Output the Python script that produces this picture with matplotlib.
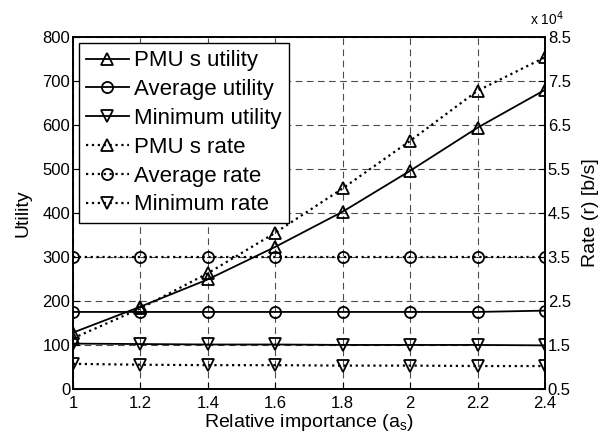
import matplotlib.pyplot as plt
from matplotlib.ticker import ScalarFormatter

plt.rcParams["font.family"] = ["Liberation Sans", "DejaVu Sans"]

importance = [1.0, 1.2, 1.4, 1.6, 1.8, 2.0, 2.2, 2.4]

pmu_utility = [128, 187, 249, 323, 403, 496, 594, 680]
avg_utility = [175, 175, 175, 175, 175, 175, 175, 178]
min_utility = [103, 102, 101, 101, 100, 100, 100, 99]

pmu_rate = [16500, 23300, 31300, 40500, 50600, 61400, 72800, 80400]
avg_rate = [35000, 35000, 35000, 35000, 35000, 35000, 35000, 35000]
min_rate = [10700, 10500, 10400, 10400, 10300, 10300, 10200, 10200]

fig = plt.figure(figsize=(6.0, 4.36), dpi=100)
ax = fig.add_axes([0.1217, 0.108, 0.7866, 0.807])
ax2 = ax.twinx()

mk = dict(markerfacecolor="none", markeredgecolor="black", markersize=8,
          markeredgewidth=1.3, color="black")

h1, = ax.plot(importance, pmu_utility, "-", marker="^", lw=1.3, label="PMU s utility", **mk)
h2, = ax.plot(importance, avg_utility, "-", marker="o", lw=1.3, label="Average utility", **mk)
h3, = ax.plot(importance, min_utility, "-", marker="v", lw=1.3, label="Minimum utility", **mk)
h4, = ax2.plot(importance, pmu_rate, ":", marker="^", lw=1.6, label="PMU s rate", **mk)
h5, = ax2.plot(importance, avg_rate, ":", marker="o", lw=1.6, label="Average rate", **mk)
h6, = ax2.plot(importance, min_rate, ":", marker="v", lw=1.6, label="Minimum rate", **mk)

ax.set_xlim(1, 2.4)
ax.set_ylim(0, 800)
ax.set_xticks(importance)
ax.set_xticklabels(["1", "1.2", "1.4", "1.6", "1.8", "2", "2.2", "2.4"])
ax.set_yticks(range(0, 801, 100))
ax2.set_ylim(5000, 85000)
ax2.set_yticks([5000 + 10000 * i for i in range(9)])

fmt = ScalarFormatter(useMathText=False)
fmt.set_powerlimits((0, 0))
ax2.yaxis.set_major_formatter(fmt)
ax2.yaxis.get_offset_text().set_visible(False)
ax2.text(1.005, 1.025, r"x 10$^4$", transform=ax.transAxes, ha="center", va="bottom", fontsize=10)

ax.grid(True, linestyle=(0, (6, 4)), color="black", lw=0.8, alpha=0.7)

for a in (ax, ax2):
    a.tick_params(direction="in", labelsize=12, length=5, pad=2)
    for s in a.spines.values():
        s.set_linewidth(1.2)
ax.tick_params(axis="x", pad=5)

ax.set_xlabel("Relative importance (a$_\\mathregular{s}$)", fontsize=14, labelpad=1)
ax.set_ylabel("Utility", fontsize=14, labelpad=8)
ax2.set_ylabel("Rate (r) [b/s]", fontsize=14, labelpad=8)

leg = ax2.legend(handles=[h1, h2, h3, h4, h5, h6], loc="upper left", fontsize=16,
                 numpoints=1, handlelength=1.9, handletextpad=0.25, labelspacing=0.35,
                 borderaxespad=0.25, fancybox=False, framealpha=1, borderpad=0.35)
leg.get_frame().set_edgecolor("black")
leg.get_frame().set_linewidth(1.0)

fig.savefig("out.png", dpi=100)
